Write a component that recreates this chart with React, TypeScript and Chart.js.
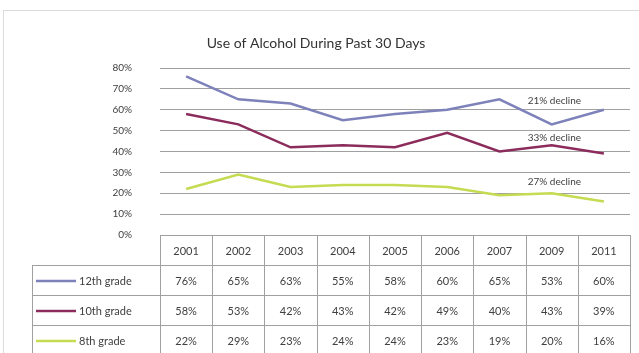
import React, { useEffect, useRef } from "react";
import { Chart, registerables } from "chart.js";

Chart.register(...registerables);

const title = "Use of Alcohol During Past 30 Days";
const years = ["2001", "2002", "2003", "2004", "2005", "2006", "2007", "2009", "2011"];
const seriesLabels = ["12th grade", "10th grade", "8th grade"];
const grade12 = [76, 65, 63, 55, 58, 60, 65, 53, 60];
const grade10 = [58, 53, 42, 43, 42, 49, 40, 43, 39];
const grade8 = [22, 29, 23, 24, 24, 23, 19, 20, 16];
const seriesColors = ["#7E82BA", "#8C2C5C", "#C6DA52"];
const declineLabels = ["21% decline", "33% decline", "27% decline"];
const declineValues = [64.5, 46.5, 25.5];
const yMin = 0;
const yMax = 80;
const yStep = 10;

const FONT = "Lato, 'Open Sans', sans-serif";

export default function App() {
  const ref = useRef<HTMLCanvasElement | null>(null);

  useEffect(() => {
    const canvas = ref.current;
    if (!canvas) return;
    const allSeries = [grade12, grade10, grade8];

    const tablePlugin = {
      id: "tablePlugin",
      afterDraw(chart: any) {
        const ctx = chart.ctx as CanvasRenderingContext2D;
        const area = chart.chartArea;
        const xs = chart.scales.x;
        const ys = chart.scales.y;
        const n = years.length;
        const colW = (area.right - area.left) / n;
        const top = area.bottom;
        const headerH = 30;
        const rowH = 30;
        const legendLeft = 32;
        const bottom = chart.height + 5;
        ctx.save();

        // outer border
        ctx.strokeStyle = "#dcdcdc";
        ctx.lineWidth = 1;
        ctx.strokeRect(3.5, 10.5, chart.width + 20, chart.height + 20);

        // title
        ctx.fillStyle = "#333333";
        ctx.font = `14px ${FONT}`;
        ctx.textAlign = "center";
        ctx.textBaseline = "middle";
        ctx.fillText(title, 316, 43);

        // annotations
        ctx.font = `10px ${FONT}`;
        ctx.textAlign = "left";
        ctx.fillStyle = "#404040";
        declineLabels.forEach((t, i) => {
          const x = xs.getPixelForValue(7) - 24;
          const y = ys.getPixelForValue(declineValues[i]);
          ctx.fillText(t, x, y);
        });

        // table grid
        ctx.strokeStyle = "#a0a0a0";
        ctx.lineWidth = 1;
        ctx.beginPath();
        for (let i = 0; i <= n; i++) {
          const x = Math.round(area.left + i * colW) + 0.5;
          ctx.moveTo(x, top);
          ctx.lineTo(x, bottom);
        }
        for (let r = 0; r < seriesLabels.length; r++) {
          const y = Math.round(top + headerH + r * rowH) + 0.5;
          ctx.moveTo(legendLeft, y);
          ctx.lineTo(area.right, y);
        }
        ctx.moveTo(legendLeft + 0.5, top + headerH);
        ctx.lineTo(legendLeft + 0.5, bottom);
        ctx.stroke();

        // header
        ctx.fillStyle = "#404040";
        ctx.font = `11px ${FONT}`;
        ctx.textAlign = "center";
        years.forEach((yr, i) => {
          ctx.fillText(yr, xs.getPixelForValue(i), top + headerH / 2 + 1);
        });

        // rows
        seriesLabels.forEach((lab, r) => {
          const cy = top + headerH + r * rowH + rowH / 2 + 1;
          ctx.strokeStyle = seriesColors[r];
          ctx.lineWidth = 2.5;
          ctx.beginPath();
          ctx.moveTo(36, cy);
          ctx.lineTo(76, cy);
          ctx.stroke();
          ctx.textAlign = "left";
          ctx.fillStyle = "#404040";
          ctx.fillText(lab, 79, cy);
          ctx.textAlign = "center";
          allSeries[r].forEach((v, i) => {
            ctx.fillText(`${v}%`, xs.getPixelForValue(i), cy);
          });
        });
        ctx.restore();
      },
    };

    const chart = new Chart(canvas, {
      type: "line",
      data: {
        labels: years,
        datasets: allSeries.map((d, i) => ({
          label: seriesLabels[i],
          data: d,
          borderColor: seriesColors[i],
          backgroundColor: seriesColors[i],
          borderWidth: 2.5,
          pointRadius: 0,
          tension: 0,
        })),
      },
      options: {
        responsive: false,
        animation: false,
        layout: { padding: { top: 68, bottom: 118, right: 9, left: 0 } },
        plugins: {
          legend: { display: false },
          title: { display: false },
          tooltip: { enabled: false },
        },
        scales: {
          x: {
            type: "category",
            display: false,
            offset: true,
          },
          y: {
            min: yMin,
            max: yMax,
            ticks: {
              stepSize: yStep,
              padding: 28,
              color: "#404040",
              font: { family: FONT, size: 10 },
              callback: (v: any) => `${v}%`,
            },
            grid: { color: "#a0a0a0", lineWidth: 1, drawTicks: false },
            border: { display: false },
            afterFit: (s: any) => {
              s.width = 160;
            },
          },
        },
      },
      plugins: [tablePlugin],
    });
    return () => chart.destroy();
  }, []);

  return (
    <div style={{ position: "fixed", left: 0, top: 0, width: 639, height: 353, background: "#fff" }}>
      <canvas ref={ref} width={639} height={353} style={{ width: 639, height: 353, display: "block" }} />
    </div>
  );
}
